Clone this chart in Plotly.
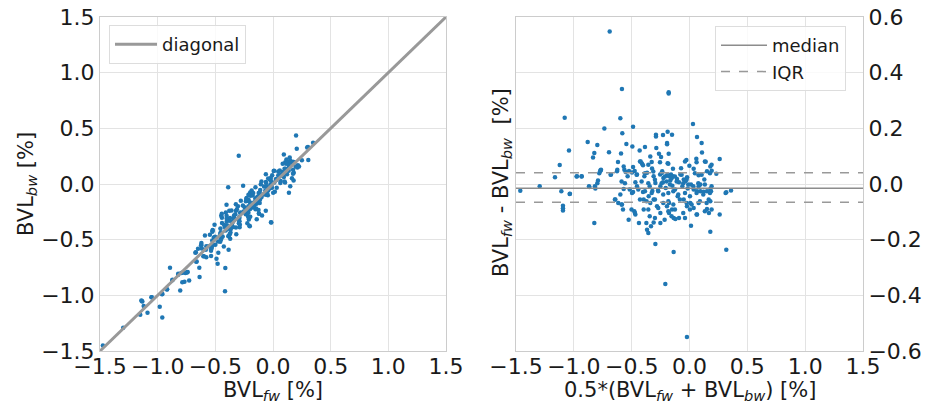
import plotly.graph_objects as go

# Bland-Altman coordinates: mean = 0.5*(fw+bw), diff = fw-bw  [%]
mean_vals = [
    -0.69, -0.584, -0.18, -0.18, -1.079, -0.598, 0.030, -0.736, -0.488, -0.581, -0.189, -0.151, -0.290, -0.290,
    -0.229, -1.042, -0.880, -0.797, -0.546, -0.494, -0.385, -0.287, -0.194, -0.194, 0.065, 0.105, -0.823, -0.696,
    -0.592, -0.431, -0.339, -0.264, -0.180, 0.108, -0.834, -0.618, -0.422, -0.411, -0.327, -0.246, -0.189, -0.027,
    -0.001, 0.059, 0.140, 0.261, -1.122, -0.765, -0.771, -0.569, -0.488, -0.402, -0.324, -0.236, -0.143, -0.073,
    0.036, 0.180, 0.192, 0.151, 0.232, -1.163, -0.973, -0.932, -0.679, -0.627, -0.563, -0.552, -0.523, -0.497,
    -0.474, -0.535, -0.454, -0.367, -0.390, -0.310, -0.254, -0.226, -0.195, -0.177, -0.160, -0.143, -0.108, -0.079,
    -0.050, -0.021, 0.079, 0.128, -1.295, -1.463, -1.108, -1.036, -0.866, -0.814, -0.791, -0.569, -0.517, -0.488,
    -0.468, -0.454, -0.402, -0.344, -0.321, -0.295, -0.272, -0.252, -0.229, -0.206, -0.166, -0.148, -0.125, -0.091,
    -0.062, -0.036, -0.016, 0.013, 0.036, 0.065, 0.094, 0.122, 0.151, 0.186, 0.180, 0.318, 0.359, 0.079, 0.094,
    -1.094, -1.094, -1.094, -0.823, -0.641, -0.598, -0.584, -0.575, -0.526, -0.497, -0.468, -0.477, -0.437, -0.396,
    -0.396, -0.373, -0.367, -0.356, -0.344, -0.333, -0.310, -0.295, -0.353, -0.339, -0.310, -0.281, -0.252, -0.252,
    -0.215, -0.195, -0.177, -0.177, -0.151, -0.137, -0.122, -0.102, -0.091, -0.137, -0.209, -0.022, 0.013, -0.050,
    -0.022, 0.007, 0.036, 0.065, 0.079, 0.151, 0.168, 0.180, 0.261, 0.318, 0.166, 0.180, 0.312,
    -0.428, -0.356, -0.255, -0.183, -0.039, 0.061, 0.133, 0.191, -0.457, -0.385, -0.313, -0.241, -0.212, -0.183,
    -0.155, -0.126, -0.068, -0.025, 0.047, 0.105, 0.177, -0.414, -0.356, -0.299, -0.241, -0.198, -0.169, -0.111,
    -0.054, -0.011, 0.033, 0.076, 0.133, 0.191, -0.443, -0.385, -0.327, -0.270, -0.227, -0.183, -0.140, -0.097,
    -0.039, 0.004, 0.061, 0.119, 0.177, -0.428, -0.371, -0.299, -0.227, -0.183, -0.140, -0.083, -0.025, 0.018,
    0.090, 0.148, -0.356, -0.270, -0.183, -0.126, -0.054, 0.004, 0.061, 0.133, 0.191, -0.299, -0.155, -0.039,
    -0.976, -0.933, -0.780, -0.769, -0.682, -0.624, -0.869, -0.818, -0.797, -1.034, -0.587, -0.558, -0.645, -0.616,
    -0.587, -0.501, -0.472,
]
diff_vals = [
    0.548, 0.341, 0.330, 0.325, 0.238, 0.236, 0.216, 0.199, 0.206, 0.182, 0.188, 0.177, 0.177, 0.171,
    0.176, 0.120, 0.151, 0.140, 0.144, 0.135, 0.133, 0.129, 0.147, 0.143, 0.169, 0.147, 0.111, 0.114,
    0.110, 0.120, 0.099, 0.109, 0.109, 0.113, 0.095, 0.079, 0.081, 0.074, 0.079, 0.097, 0.075, 0.086,
    0.066, 0.091, 0.080, 0.090, 0.068, 0.051, 0.047, 0.063, 0.061, 0.067, 0.056, 0.046, 0.055, 0.057,
    0.055, 0.063, 0.048, 0.046, 0.037, 0.024, 0.028, 0.028, 0.034, 0.046, 0.051, 0.043, 0.047, 0.041,
    0.047, 0.028, 0.034, 0.040, 0.028, 0.028, 0.034, 0.022, 0.031, 0.028, 0.034, 0.028, 0.018, 0.034,
    0.016, 0.024, 0.031, 0.016, -0.008, -0.024, -0.026, -0.036, -0.011, -0.016, 0.013, -0.018, -0.020, -0.029,
    0.006, -0.008, -0.029, -0.008, -0.025, 0.004, -0.023, -0.008, 0.006, -0.014, 0.013, -0.006, -0.020, 0.006,
    -0.008, 0.010, -0.016, -0.002, -0.020, -0.026, -0.026, -0.028, -0.026, -0.026, -0.018, -0.030, -0.023, -0.008, -0.002,
    -0.078, -0.087, -0.095, -0.140, -0.056, -0.038, -0.074, -0.092, -0.128, -0.032, -0.110, -0.098, -0.140, -0.056,
    -0.092, -0.140, -0.164, -0.176, -0.116, -0.152, -0.138, -0.216, -0.044, -0.068, -0.056, -0.080, -0.104, -0.140,
    -0.128, -0.080, -0.068, -0.104, -0.092, -0.122, -0.126, -0.044, -0.122, -0.244, -0.359, -0.550, -0.150, -0.056,
    -0.080, -0.068, -0.086, -0.110, -0.068, -0.090, -0.104, -0.172, -0.110, -0.236, -0.056, -0.062, -0.032,
    0.081, 0.069, 0.078, 0.073, 0.081, 0.078, 0.081, 0.069, 0.033, 0.039, 0.045, 0.039, 0.027, 0.033,
    0.021, 0.027, 0.033, 0.015, 0.039, 0.033, 0.039, 0.009, 0.003, 0.015, 0.003, 0.009, -0.002, 0.009,
    0.003, -0.002, -0.008, 0.003, -0.002, -0.008, -0.020, -0.026, -0.032, -0.026, -0.038, -0.032, -0.026, -0.038,
    -0.032, -0.044, -0.032, -0.038, -0.032, -0.056, -0.062, -0.056, -0.068, -0.062, -0.074, -0.056, -0.068, -0.074,
    -0.062, -0.068, -0.092, -0.086, -0.098, -0.092, -0.104, -0.092, -0.110, -0.098, -0.092, -0.122, -0.116, -0.122,
    0.027, 0.027, 0.039, 0.049, 0.033, 0.051, -0.008, -0.008, 0.003, -0.035, 0.009, 0.003, -0.056, -0.068,
    -0.074, -0.092, -0.104,
]

# summary lines
median_diff = -0.015
iqr_low = -0.066
iqr_high = 0.040

axis_ticks = [-1.5, -1.0, -0.5, 0.0, 0.5, 1.0, 1.5]
diff_ticks = [-0.6, -0.4, -0.2, 0.0, 0.2, 0.4, 0.6]
diag_ends = [-1.5, 1.5]

# forward/backward values reconstructed from the Bland-Altman coordinates
bvl_fw = [m + d / 2 for m, d in zip(mean_vals, diff_vals)]
bvl_bw = [m - d / 2 for m, d in zip(mean_vals, diff_vals)]

# the page body has an 8px margin; the figure fills the rest of the 936x406 window
OFF = 8
W, H = 936 - OFF, 406 - OFF


def px(x):
    return (x - OFF) / W


def py(y):
    return 1 - (y - OFF) / H


BLUE = "#1f77b4"
TXT = "#1a1a1a"
GRID = "#e3e3e3"
SPINE = "#cccccc"
FONT = "DejaVu Sans"

fig = go.Figure()

fig.add_trace(go.Scatter(x=bvl_fw, y=bvl_bw, mode="markers", xaxis="x", yaxis="y",
                         marker=dict(color=BLUE, size=4.5, line=dict(width=0)), showlegend=False))
fig.add_trace(go.Scatter(x=diag_ends, y=diag_ends, mode="lines", xaxis="x", yaxis="y",
                         line=dict(color="#999999", width=3), name="diagonal", legend="legend"))

fig.add_trace(go.Scatter(x=mean_vals, y=diff_vals, mode="markers", xaxis="x2", yaxis="y2",
                         marker=dict(color=BLUE, size=4.5, line=dict(width=0)), showlegend=False))
fig.add_trace(go.Scatter(x=diag_ends, y=[median_diff, median_diff], mode="lines", xaxis="x2", yaxis="y2",
                         line=dict(color="#8c8c8c", width=1.5), name="median", legend="legend2"))
fig.add_trace(go.Scatter(x=diag_ends, y=[iqr_high, iqr_high], mode="lines", xaxis="x2", yaxis="y2",
                         line=dict(color="#999999", width=1.5, dash="dash"), name="IQR", legend="legend2"))
fig.add_trace(go.Scatter(x=diag_ends, y=[iqr_low, iqr_low], mode="lines", xaxis="x2", yaxis="y2",
                         line=dict(color="#999999", width=1.5, dash="dash"), showlegend=False))

y_dom = [py(351), py(17)]
common = dict(showgrid=True, gridcolor=GRID, gridwidth=1, zeroline=False, showline=True,
              linecolor=SPINE, linewidth=1, mirror=True, ticks="", tickangle=0, automargin=False,
              tickfont=dict(family=FONT, size=22, color=TXT), tickformat=".1f")
xcommon = dict(common, ticklabelstandoff=-4)

fig.update_layout(
    width=W, height=H, margin=dict(l=0, r=0, t=0, b=0, autoexpand=False),
    paper_bgcolor="white", plot_bgcolor="white",
    font=dict(family=FONT, color=TXT),
    xaxis=dict(domain=[px(100), px(446)], range=[-1.5, 1.5], tickvals=axis_ticks, anchor="y", **xcommon),
    yaxis=dict(domain=y_dom, range=[-1.5, 1.5], tickvals=axis_ticks, anchor="x", **common),
    xaxis2=dict(domain=[px(516), px(863)], range=[-1.5, 1.5], tickvals=axis_ticks, anchor="y2", **xcommon),
    yaxis2=dict(domain=y_dom, range=[-0.6, 0.6], tickvals=diff_ticks, anchor="x2", side="right", **common),
    legend=dict(x=px(109), y=py(25), xanchor="left", yanchor="top", itemwidth=42,
                bgcolor="rgba(255,255,255,0.8)", bordercolor="#dddddd", borderwidth=1,
                font=dict(family=FONT, size=18, color=TXT)),
    legend2=dict(x=px(715), y=py(26), xanchor="left", yanchor="top", itemwidth=46,
                 bgcolor="rgba(255,255,255,0.8)", bordercolor="#dddddd", borderwidth=1,
                 font=dict(family=FONT, size=18, color=TXT)),
)

ann_font = dict(family=FONT, size=21, color=TXT)
fig.add_annotation(text="BVL<sub><i>fw</i></sub> [%]", xref="paper", yref="paper",
                   x=px(273), y=py(391), showarrow=False, font=ann_font, xanchor="center", yanchor="middle")
fig.add_annotation(text="BVL<sub><i>bw</i></sub> [%]", xref="paper", yref="paper",
                   x=px(27), y=py(184), showarrow=False, font=ann_font, textangle=-90,
                   xanchor="center", yanchor="middle")
fig.add_annotation(text="0.5*(BVL<sub><i>fw</i></sub> + BVL<sub><i>bw</i></sub>) [%]", xref="paper", yref="paper",
                   x=px(690), y=py(391), showarrow=False, font=ann_font, xanchor="center", yanchor="middle")
fig.add_annotation(text="BVL<sub><i>fw</i></sub> - BVL<sub><i>bw</i></sub>  [%]", xref="paper", yref="paper",
                   x=px(502), y=py(183), showarrow=False, font=ann_font, textangle=-90,
                   xanchor="center", yanchor="middle")

fig.write_html("out.html")
